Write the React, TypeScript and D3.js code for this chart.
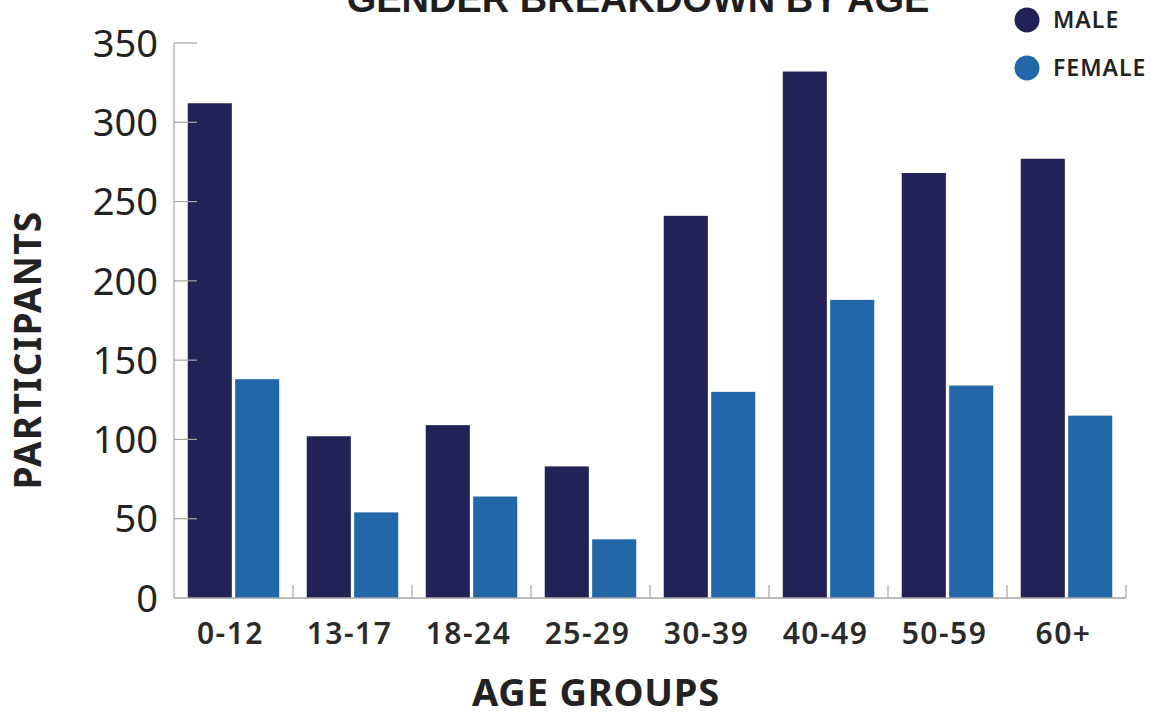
import React from "react";
import * as d3 from "d3";

const categories = ["0-12", "13-17", "18-24", "25-29", "30-39", "40-49", "50-59", "60+"];
const maleValues = [312, 102, 109, 83, 241, 332, 268, 277];
const femaleValues = [138, 54, 64, 37, 130, 188, 134, 115];
const yTicks = [0, 50, 100, 150, 200, 250, 300, 350];
const seriesNames = ["MALE", "FEMALE"];
const seriesColors = ["#232256", "#2268a8"];

const W = 1158;
const H = 715;
const left = 174;
const right = 1126;
const top = 43;
const bottom = 598;

export default function App() {
  const x = d3.scaleBand<string>().domain(categories).range([left, right]).paddingInner(0).paddingOuter(0);
  const sub = d3
    .scaleBand<string>()
    .domain(seriesNames)
    .range([0, x.step()])
    .paddingInner(0.07)
    .paddingOuter(0.29);
  const y = d3.scaleLinear().domain([0, 350]).range([bottom, top]);
  const data = categories.map((c, i) => ({ c, vals: [maleValues[i], femaleValues[i]] }));
  const axisColor = "#a6a6a6";
  const bounds = categories.map((c) => (x(c) as number) + x.step());

  return (
    <svg
      width={W}
      height={H}
      style={{ position: "absolute", left: 0, top: 0, background: "#fff" }}
      fontFamily="'Noto Sans', sans-serif"
    >
      <text
        x={638}
        y={12}
        textAnchor="middle"
        fontFamily="'Liberation Sans', Arial, sans-serif"
        fontWeight={700}
        fontSize={38}
        fill="#1e1e1e"
      >
        GENDER BREAKDOWN BY AGE
      </text>

      {/* bars */}
      {data.map((d) =>
        d.vals.map((v, j) => (
          <rect
            key={d.c + j}
            x={(x(d.c) as number) + (sub(seriesNames[j]) as number)}
            y={y(v)}
            width={sub.bandwidth()}
            height={bottom - y(v)}
            fill={seriesColors[j]}
          />
        ))
      )}

      {/* y axis */}
      <line x1={left} x2={left} y1={top} y2={bottom} stroke={axisColor} strokeWidth={1.2} />
      {yTicks.map((t) => (
        <g key={t}>
          {t > 0 && <line x1={left} x2={left + 23} y1={y(t)} y2={y(t)} stroke={axisColor} strokeWidth={1.2} />}
          <text x={158} y={y(t)} dy="0.36em" textAnchor="end" fontSize={38} fill="#222">
            {t}
          </text>
        </g>
      ))}

      {/* x axis */}
      <line x1={left} x2={right} y1={bottom} y2={bottom} stroke={axisColor} strokeWidth={1.5} />
      {bounds.map((bx, i) => (
        <line key={i} x1={bx} x2={bx} y1={bottom} y2={bottom - 13} stroke={axisColor} strokeWidth={1.2} />
      ))}
      {categories.map((c) => (
        <text
          key={c}
          x={(x(c) as number) + x.step() / 2 - 3}
          y={644}
          textAnchor="middle"
          fontSize={30}
          fontWeight={600}
          letterSpacing={1.5}
          fill="#2a2a2a"
        >
          {c}
        </text>
      ))}

      <text x={596} y={706} textAnchor="middle" fontSize={38} fontWeight={700} letterSpacing={0.8} fill="#222">
        AGE GROUPS
      </text>
      <text
        transform={`translate(41,350) rotate(-90)`}
        textAnchor="middle"
        fontSize={37}
        fontWeight={700}
        letterSpacing={1.3}
        fill="#222"
      >
        PARTICIPANTS
      </text>

      {/* legend */}
      {seriesNames.map((s, i) => (
        <g key={s} transform={`translate(1027,${20 + i * 48})`}>
          <circle r={12.5} fill={seriesColors[i]} />
          <text x={26} dy="0.36em" fontSize={23} fontWeight={600} letterSpacing={1} fill="#222">
            {s}
          </text>
        </g>
      ))}
    </svg>
  );
}
